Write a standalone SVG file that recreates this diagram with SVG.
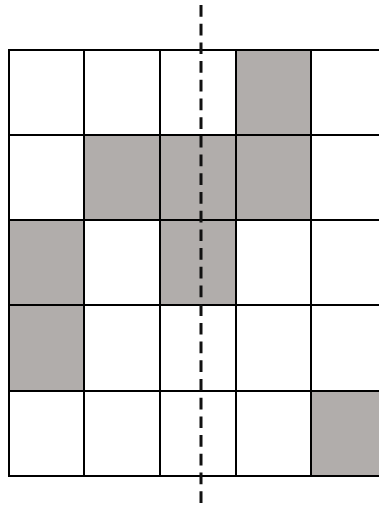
<svg xmlns="http://www.w3.org/2000/svg" width="379" height="505" viewBox="0 0 379 505">
<style>
.g{fill:#b1adab}
.ln{stroke:#000;stroke-width:2;fill:none}
.dash{stroke:#111;stroke-width:3;stroke-dasharray:11.7 7}
</style>
<rect width="379" height="505" fill="#fff"/>
<g id="cells">
<rect class="g" x="236" y="50" width="75" height="85"/>
<rect class="g" x="84" y="135" width="76" height="85"/>
<rect class="g" x="160" y="135" width="76" height="85"/>
<rect class="g" x="236" y="135" width="75" height="85"/>
<rect class="g" x="9" y="220" width="75" height="85"/>
<rect class="g" x="160" y="220" width="76" height="85"/>
<rect class="g" x="9" y="305" width="75" height="86"/>
<rect class="g" x="311" y="391" width="68" height="85"/>
</g>
<g id="grid" class="ln">
<path d="M8 50H379M8 135H379M8 220H379M8 305H379M8 391H379M8 476H379"/>
<path d="M9 49V477M84 49V477M160 49V477M236 49V477M311 49V477"/>
</g>
<g id="axis">
<line class="dash" x1="201" y1="5" x2="201" y2="505"/>
</g>
</svg>
